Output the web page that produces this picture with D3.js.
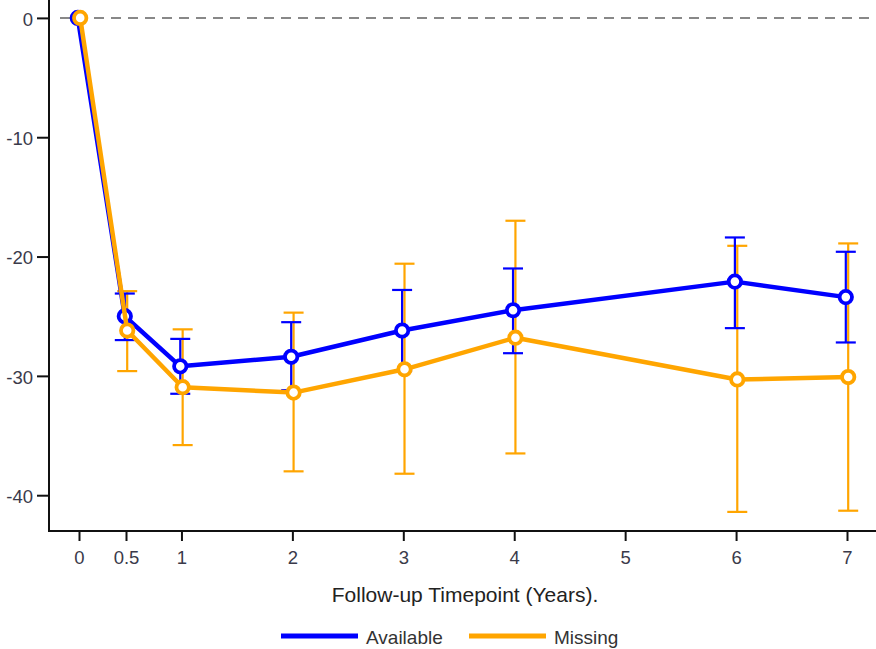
<!DOCTYPE html>
<html>
<head>
<meta charset="utf-8">
<script src="https://cdn.jsdelivr.net/npm/d3@7"></script>
<style>
  body { margin: 0; background: #fff; }
  text { font-family: "Liberation Sans", Arial, sans-serif; }
</style>
</head>
<body>
<div id="chart-container"></div>
<script>
const timepoints = [0, 0.5, 1, 2, 3, 4, 6, 7];
const tickValues = [0, 0.5, 1, 2, 3, 4, 5, 6, 7];
const yTicks = [0, -10, -20, -30, -40];

const availableMean = [0, -25.0, -29.2, -28.4, -26.2, -24.5, -22.1, -23.4];
const availableLow  = [0, -27.0, -31.5, -31.2, -29.6, -28.1, -26.0, -27.2];
const availableHigh = [0, -23.1, -26.9, -25.5, -22.8, -21.0, -18.4, -19.6];

const missingMean = [0, -26.2, -30.95, -31.4, -29.45, -26.8, -30.3, -30.1];
const missingLow  = [0, -29.6, -35.8, -38.0, -38.2, -36.5, -41.4, -41.3];
const missingHigh = [0, -22.9, -26.1, -24.7, -20.6, -17.0, -19.1, -18.9];

const seriesNames = ["Available", "Missing"];
const seriesColors = ["#0000ff", "#ffa500"];

const width = 876, height = 649;

const svg = d3.select("#chart-container")
    .append("svg")
    .attr("width", width)
    .attr("height", height);

// x is not linear between 0 and 0.5 in the original
const x = d3.scaleLinear()
    .domain([0, 0.5, 7])
    .range([79, 126, 847]);

const y = d3.scaleLinear()
    .domain([-43, 1.5])
    .range([531, 0]);

const mk = (mean, low, high) => timepoints.map((t, i) => ({ t, v: mean[i], lo: low[i], hi: high[i] }));
const series = [
    { name: seriesNames[0], color: seriesColors[0], dx: -1.2, data: mk(availableMean, availableLow, availableHigh) },
    { name: seriesNames[1], color: seriesColors[1], dx: 1.2, data: mk(missingMean, missingLow, missingHigh) }
];

// zero reference line
svg.append("line")
    .attr("x1", 60)
    .attr("x2", width)
    .attr("y1", y(0))
    .attr("y2", y(0))
    .attr("stroke", "#888")
    .attr("stroke-width", 2)
    .attr("stroke-dasharray", "10,7");

// axes
const yAxis = svg.append("g")
    .attr("transform", "translate(49,0)")
    .call(d3.axisLeft(y).tickValues(yTicks).tickSize(12).tickPadding(4).tickFormat(d => String(d)));
const xAxis = svg.append("g")
    .attr("transform", "translate(0,531)")
    .call(d3.axisBottom(x).tickValues(tickValues).tickSize(10).tickPadding(10).tickFormat(d => String(d)));

[yAxis, xAxis].forEach(g => {
    g.select(".domain").remove();
    g.selectAll(".tick line").attr("stroke", "#111").attr("stroke-width", 2);
    g.selectAll(".tick text")
        .attr("fill", "#3a3a4a")
        .style("font-size", "18.5px")
        .style("font-family", "'Liberation Sans', Arial, sans-serif");
});
yAxis.selectAll(".tick text").attr("dy", "0.4em");

svg.append("line")
    .attr("x1", 49).attr("x2", 49)
    .attr("y1", 0).attr("y2", 532)
    .attr("stroke", "#111").attr("stroke-width", 2);
svg.append("line")
    .attr("x1", 48).attr("x2", width)
    .attr("y1", 531).attr("y2", 531)
    .attr("stroke", "#111").attr("stroke-width", 2);

// error bars: Missing under Available
const drawErrors = s => {
    const g = svg.append("g").attr("stroke", s.color).attr("stroke-width", 2.2);
    const d = s.data.filter(p => p.t > 0);
    g.selectAll(".bar").data(d).join("line")
        .attr("x1", p => x(p.t) + s.dx).attr("x2", p => x(p.t) + s.dx)
        .attr("y1", p => y(p.lo)).attr("y2", p => y(p.hi));
    g.selectAll(".capHi").data(d).join("line")
        .attr("x1", p => x(p.t) + s.dx - 10).attr("x2", p => x(p.t) + s.dx + 10)
        .attr("y1", p => y(p.hi)).attr("y2", p => y(p.hi));
    g.selectAll(".capLo").data(d).join("line")
        .attr("x1", p => x(p.t) + s.dx - 10).attr("x2", p => x(p.t) + s.dx + 10)
        .attr("y1", p => y(p.lo)).attr("y2", p => y(p.lo));
};
drawErrors(series[1]);
drawErrors(series[0]);

// lines and points
series.forEach(s => {
    const line = d3.line()
        .x(p => x(p.t) + s.dx)
        .y(p => y(p.v));
    svg.append("path")
        .datum(s.data)
        .attr("fill", "none")
        .attr("stroke", s.color)
        .attr("stroke-width", 4.5)
        .attr("stroke-linejoin", "round")
        .attr("d", line);
    svg.append("g").selectAll("circle").data(s.data).join("circle")
        .attr("cx", p => x(p.t) + s.dx)
        .attr("cy", p => y(p.v))
        .attr("r", 6.2)
        .attr("fill", "#fff")
        .attr("stroke", s.color)
        .attr("stroke-width", 3.8);
});

// x axis title
svg.append("text")
    .attr("x", 465)
    .attr("y", 602)
    .attr("text-anchor", "middle")
    .style("font-size", "21px")
    .attr("fill", "#222")
    .text("Follow-up Timepoint (Years).");

// legend
const legend = svg.append("g");
const legendX = [281, 469];
series.forEach((s, i) => {
    legend.append("line")
        .attr("x1", legendX[i]).attr("x2", legendX[i] + 77)
        .attr("y1", 636).attr("y2", 636)
        .attr("stroke", s.color)
        .attr("stroke-width", 5);
    legend.append("text")
        .attr("x", legendX[i] + 85)
        .attr("y", 644)
        .style("font-size", "19px")
        .attr("fill", "#333")
        .text(s.name);
});
</script>
</body>
</html>
